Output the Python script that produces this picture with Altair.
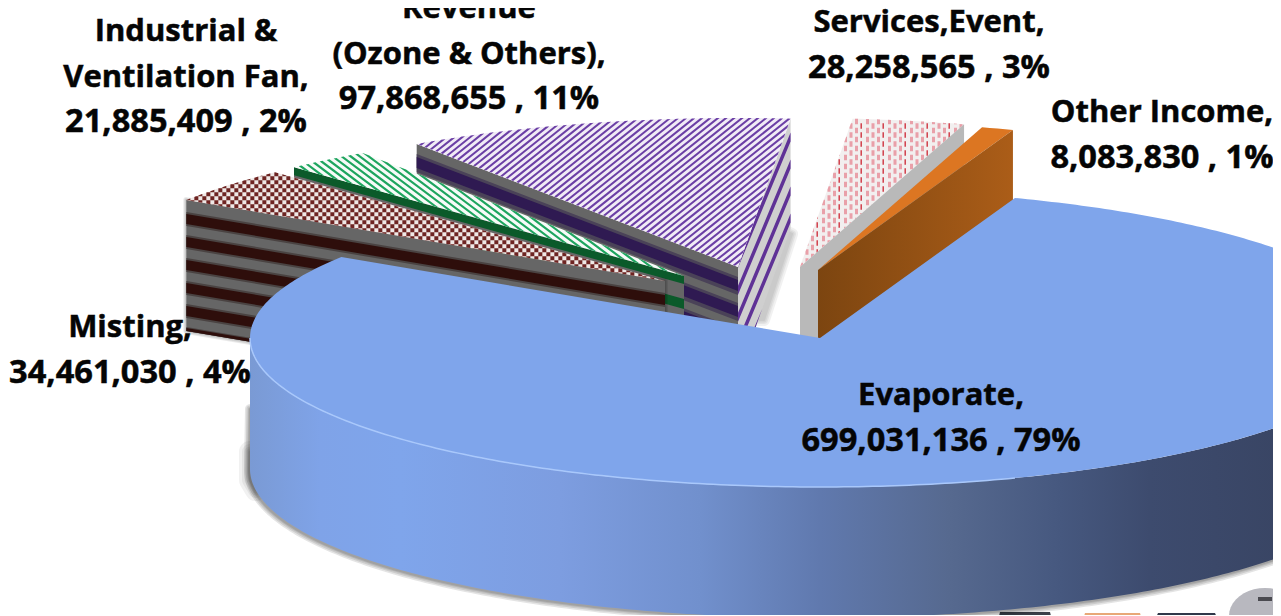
import math
import altair as alt
import pandas as pd

# ---- data (clockwise from the large slice)
NAMES = ["Evaporate,", "Misting,", "Industrial &|Ventilation Fan,", "Revenue|(Ozone & Others),", "Services,Event,", "Other Income,"]
VALUES = [699031136, 34461030, 21885409, 97868655, 28258565, 8083830]
PERCENTS = [79, 4, 2, 11, 3, 1]

# ---- layout
ORIGIN = 8
A, B = 570, 149
START = 70
APEX = [(820, 338), (665, 281), (684, 276), (738, 267), (800, 267), (818, 270)]
DEPTH = [131, 131, 131, 110, 110, 110]
LABEL_POS = [(941, 405), (130, 337), (186, 41), (469, 18), (929, 32), (1162, 122)]
LINE_GAP = 45.5
FONT = "Open Sans"
NAME_SIZE = 31
VALUE_SIZE = 32.6

total = sum(VALUES)
angles = [START]
for v in VALUES:
    angles.append(angles[-1] - v / total * 360)


def rim(apex, t, dy=0):
    r = math.radians(t)
    return (apex[0] + A * math.cos(r), apex[1] - B * math.sin(r) + dy)


def arc(apex, t0, t1, dy=0, n=None):
    n = n or max(4, int(abs(t1 - t0) * 1.5))
    return [rim(apex, t0 + (t1 - t0) * i / n, dy) for i in range(n + 1)]


def sector(i):
    return [APEX[i]] + arc(APEX[i], angles[i], angles[i + 1])


def clip_half(poly, a, b, c):
    out = []
    for k, p in enumerate(poly):
        q = poly[(k + 1) % len(poly)]
        fp, fq = a * p[0] + b * p[1] - c, a * q[0] + b * q[1] - c
        if fp >= 0:
            out.append(p)
        if (fp >= 0) != (fq >= 0):
            s = fp / (fp - fq)
            out.append((p[0] + s * (q[0] - p[0]), p[1] + s * (q[1] - p[1])))
    return out


def bands(poly, a, b, period, width, phase=0):
    us = [a * x + b * y for x, y in poly]
    out, k = [], math.floor((min(us) - phase) / period) - 1
    while k * period + phase < max(us):
        u0 = k * period + phase
        piece = clip_half(clip_half(poly, a, b, u0), -a, -b, -(u0 + width))
        if len(piece) > 2:
            out.append(piece)
        k += 1
    return out


def clip_rect(poly, x0, y0, x1, y1):
    for a, b, c in ((1, 0, x0), (-1, 0, -x1), (0, 1, y0), (0, -1, -y1)):
        poly = clip_half(poly, a, b, c)
        if not poly:
            break
    return poly


def bbox(poly):
    xs, ys = [p[0] for p in poly], [p[1] for p in poly]
    return min(xs), min(ys), max(xs), max(ys)


layers = []


def ring(poly):
    pts = [[round(x - ORIGIN, 2), round(y - ORIGIN, 2)] for x, y in poly]
    return pts + [pts[0]]


PROJ = dict(type="identity", scale=1, translate=[0, 0])


def add(polys, fill, **mark):
    geom = {"type": "MultiPolygon", "coordinates": [[ring(p)] for p in polys]}
    feat = {"type": "Feature", "properties": {}, "geometry": geom}
    mark.setdefault("strokeWidth", 0)
    layers.append(alt.Chart(alt.Data(values=[feat])).mark_geoshape(fill=fill, **mark).project(**PROJ))


def soft(poly, color="#000000", widths=(14, 10, 7, 4, 2), opacity=0.05):
    for w in widths:
        add([poly], color, stroke=color, strokeWidth=w, opacity=opacity, strokeJoin="round")


def face_bands(i, t, bandlist):
    a, r = APEX[i], rim(APEX[i], t)
    out = []
    for v0, v1 in bandlist:
        out.append([(r[0], r[1] + v0), (a[0], a[1] + v0), (a[0], a[1] + v1), (r[0], r[1] + v1)])
    return out


def face(i, t):
    return face_bands(i, t, [(0, DEPTH[i])])[0]


def grad(stops):
    return alt.LinearGradient(gradient="linear", x1=0, x2=1, y1=0, y2=0,
                              stops=[alt.GradientStop(color=c, offset=o) for o, c in stops])


# ---- backdrop scraps
add([[(1265 + 36 * math.cos(a / 20 * math.pi), 616 + 28 * math.sin(a / 20 * math.pi)) for a in range(40)]], "#b8b8bf")
add([[(1258, 597), (1272, 597), (1272, 601), (1258, 601)]], "#4a4a50")
add([[(1000, 612), (1050, 612), (1052, 620), (998, 620)]], "#3a3f48")
add([[(1085, 613), (1140, 613), (1142, 620), (1083, 620)]], "#e8a878")
add([[(1158, 613), (1215, 613), (1218, 620), (1155, 620)]], "#30384a")

# ---- Revenue (index 3)
REV, IND, MIS, SER, OTH, EVA = 3, 2, 1, 4, 5, 0
soft([(788, 232), (792, 234), (764, 320), (758, 320)], widths=(12, 8, 5, 2), opacity=0.05)
f = face(REV, angles[REV + 1])
add([f], "#cfcfcf")
add(bands(f, 2.4, 1, 27, 9, phase=5), "#5f3296")
f = face(REV, angles[REV])
add([f], "#666666")
add(face_bands(REV, angles[REV], [(10, 28), (36, 54), (62, 80)]), "#4a4258")
add(face_bands(REV, angles[REV], [(13, 24), (39, 50), (65, 76)]), "#2f1a52")
s = sector(REV)
add([s], "#f1ebf6")
add(bands(s, 0.8, 1, 6.4, 2.6), "#6b3fa5")

# ---- Industrial (index 2)
f = face(IND, angles[IND])
add([f], "#666666")
add(face_bands(IND, angles[IND], [(0, 8), (23, 33)]), "#0b5a2a")
s = sector(IND)
add([s], "#f7fbf8")
add(bands(s, -0.75, 1, 6.75, 2.7), "#1ea55f")

# ---- Misting (index 1)
soft(face(MIS, angles[MIS]), widths=(6, 4, 2), opacity=0.08)
f = face(MIS, angles[MIS])
add([f], "#666666")
add(face_bands(MIS, angles[MIS], [(12, 26), (35, 49), (58, 72), (81, 95), (104, 118), (127, 131)]), "#4a4342")
add(face_bands(MIS, angles[MIS], [(14, 24), (37, 47), (60, 70), (83, 93), (106, 116), (128, 131)]), "#2e0e0b")
s = sector(MIS)
add([s], "#efe8e6")
x0, y0, x1, y1 = bbox(s)
cells = []
for ix in range(int((x1 - x0) / 4) + 2):
    for iy in range(int((y1 - y0) / 4) + 2):
        if (ix + iy) % 2 == 0:
            cx, cy = x0 + ix * 4, y0 + iy * 4
            piece = clip_rect(s, cx, cy, cx + 4, cy + 4)
            if len(piece) > 2:
                cells.append(piece)
add(cells, "#6e2422")

# ---- Services (index 4)
s = sector(SER)
add([s], "#f2efef")
x0, y0, x1, y1 = bbox(s)
pink, red = [], []
for ix in range(int((x1 - x0) / 5.5) + 2):
    for iy in range(int((y1 - y0) / 9) + 2):
        cx, cy = x0 + ix * 5.5, y0 + iy * 9 + (ix % 2) * 4.5
        is_red = ix % 4 == 3
        piece = clip_rect(s, cx, cy, cx + (1.4 if is_red else 3), cy + 5.5)
        if len(piece) > 2:
            (red if is_red else pink).append(piece)
add(pink, "#e9a0a9")
add(red, "#cf3340")
add([face(SER, angles[SER + 1])], "#b9b9b9")

# ---- Other income (index 5)
add([sector(OTH)], "#dc7622")
add([face(OTH, angles[OTH + 1])], grad([(0, "#7c4510"), (1, "#ab5d18")]))

# ---- Evaporate (index 0)
ev = APEX[EVA]
D = DEPTH[EVA]
lower = arc(ev, 180, 360, D, n=240)
upper = arc(ev, 180, 360, 0, n=240)
soft([(250, 452), (254, 452), (256, 490), (250, 480)], widths=(22, 16, 11, 7, 3), opacity=0.05)
shadow = [(x - 1, y + 1) for x, y in lower] + [(x, y - 60) for x, y in reversed(lower)]
soft(shadow, widths=(10, 7, 4, 2), opacity=0.1)
W = 2 * A


def off(x):
    return (x - (ev[0] - A)) / W


add([upper + lower[::-1]], grad([
    (off(250), "#7a9ad4"), (off(320), "#7fa3e8"), (off(400), "#7fa5eb"), (off(560), "#7d9de0"),
    (off(700), "#7190cd"), (off(820), "#6079ae"), (off(950), "#56698f"), (off(1060), "#46587f"),
    (off(1150), "#3d4b6e"), (off(1281), "#394564"), (1, "#394564")]))
add([sector(EVA)], "#7fa5eb")
line = {"type": "Feature", "properties": {}, "geometry": {"type": "LineString", "coordinates": [
    [round(x - ORIGIN, 2), round(y - ORIGIN, 2)] for x, y in arc(ev, 180, 290, 0, n=150)]}}
layers.append(alt.Chart(alt.Data(values=[line])).mark_geoshape(filled=False, stroke="#a9c8fb", strokeWidth=1.5).project(**PROJ))

# ---- labels
rows = []
for name, val, pct, (lx, ly) in zip(NAMES, VALUES, PERCENTS, LABEL_POS):
    lines = name.split("|")
    for k, text in enumerate(lines):
        rows.append({"line": text, "px": lx - ORIGIN, "py": ly + k * LINE_GAP - ORIGIN, "size": NAME_SIZE})
    rows.append({"line": f"{val:,} , {pct}%", "px": lx - ORIGIN, "py": ly + len(lines) * LINE_GAP - ORIGIN, "size": VALUE_SIZE})
labels = alt.Chart(pd.DataFrame(rows)).mark_text(
    font=FONT, fontWeight="bold", color="#050505", stroke="#050505", strokeWidth=0.5,
    align="center", baseline="alphabetic"
).encode(
    x=alt.X("px:Q", scale=None, axis=None),
    y=alt.Y("py:Q", scale=None, axis=None),
    size=alt.Size("size:Q", scale=None, legend=None),
    text="line:N",
)

chart = alt.layer(*layers, labels).properties(
    width=1265, height=607, autosize=alt.AutoSizeParams(type="none", contains="padding"), padding=0,
    background="#ffffff",
).configure_view(strokeWidth=0)

chart.save("out.html", embed_options={"renderer": "svg", "actions": False})
